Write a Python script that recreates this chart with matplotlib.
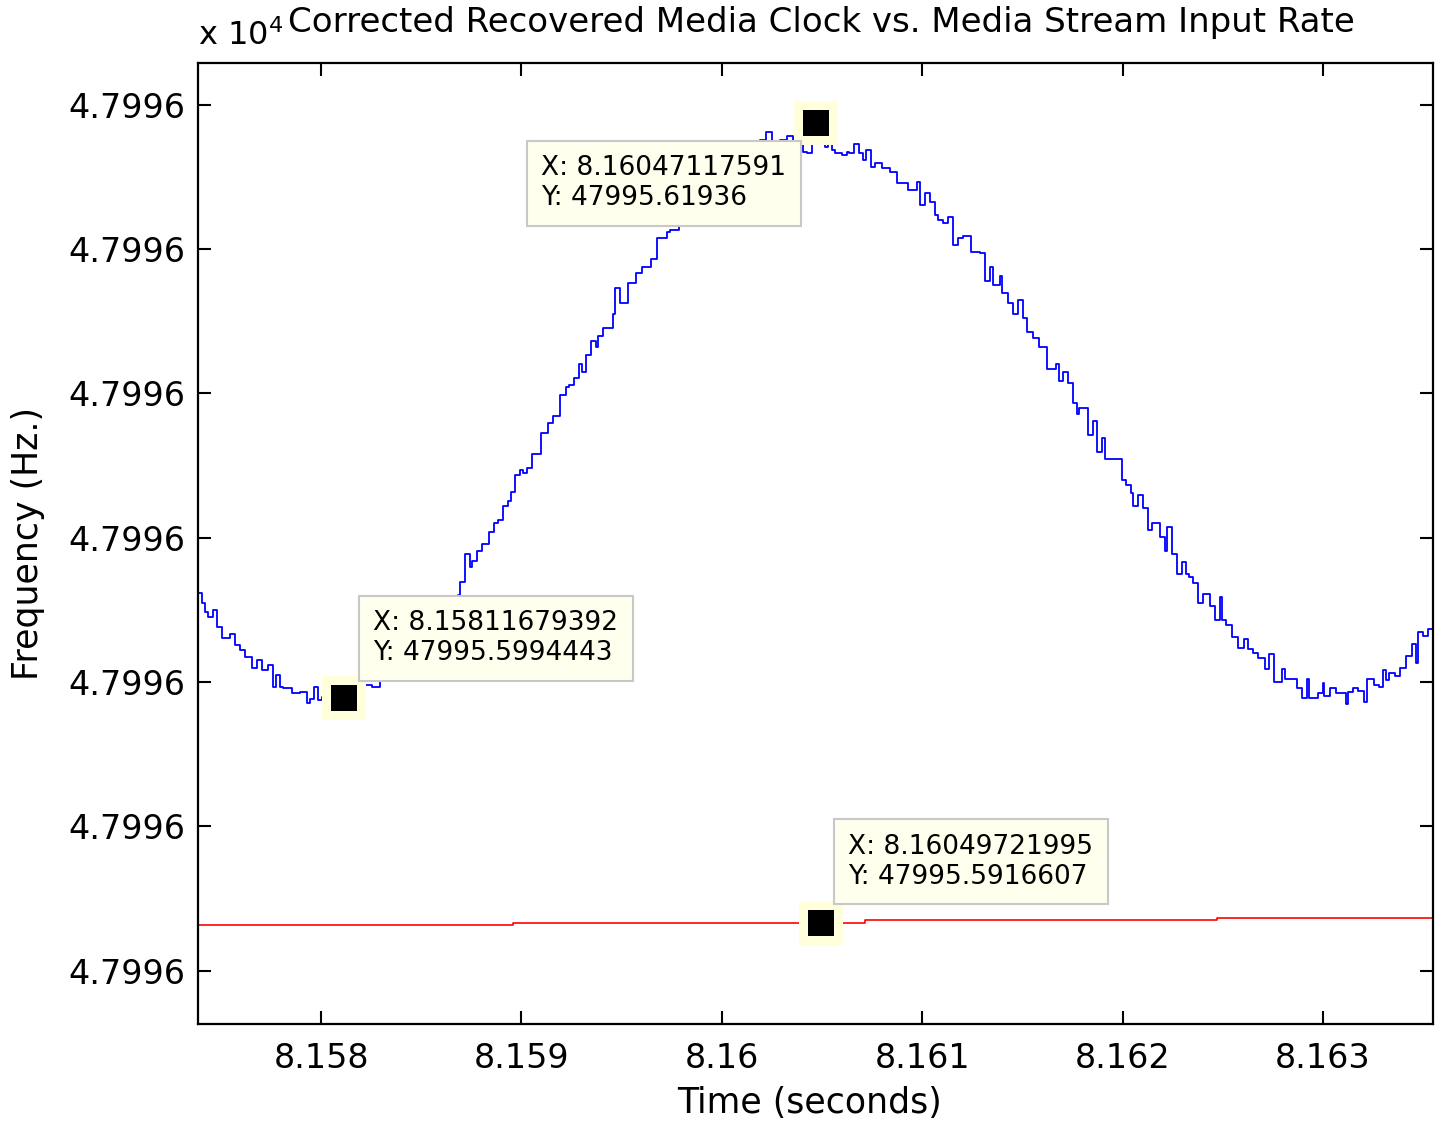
import numpy as np
import matplotlib
matplotlib.use("Agg")
import matplotlib.pyplot as plt
from matplotlib.ticker import MultipleLocator, FuncFormatter

# Base values: times are stored as microseconds after T0, frequencies as mHz above F0
T0 = 8.157        # s
F0 = 47995.5      # Hz

# Recovered media clock (blue staircase)
blue_t_us = [386, 406, 421, 436, 461, 481, 506, 546, 571, 596, 621, 656, 681, 706, 736, 761, 776, 795,
             810, 855, 895, 930, 945, 965, 985, 1005, 1045, 1085, 1110, 1155, 1185, 1220, 1254, 1294,
             1319, 1354, 1394, 1434, 1469, 1504, 1544, 1584, 1619, 1654, 1684,
             1694, 1719, 1744, 1753, 1778, 1803, 1838, 1863, 1883, 1908, 1933, 1948, 1968, 1993, 2008,
             2028, 2053, 2098, 2133, 2158, 2193, 2223, 2238, 2262, 2287, 2302, 2322, 2347, 2372, 2382,
             2407, 2457, 2467, 2492, 2532, 2572, 2602, 2647, 2677, 2727, 2742,
             2786, 2831, 2871, 2916, 2956, 3001, 3041, 3081, 3121, 3161, 3191, 3221, 3250, 3290, 3325,
             3355, 3405, 3425, 3450, 3465, 3490, 3515, 3530, 3550, 3565, 3600, 3625, 3635, 3660, 3685,
             3705, 3720, 3744, 3764, 3799, 3839, 3874, 3929, 3974, 3989, 4014, 4039, 4064, 4079, 4104,
             4129, 4154, 4179, 4204, 4244, 4288, 4313, 4338, 4353, 4388, 4398, 4428, 4453, 4478, 4503,
             4523, 4553, 4583, 4623, 4668, 4683, 4703, 4728, 4752, 4772, 4782, 4827, 4852, 4872, 4897,
             4912, 4997, 5017, 5042, 5052, 5077, 5102, 5127, 5147, 5187, 5212, 5222, 5246, 5271, 5296,
             5316, 5331, 5351, 5376, 5401, 5436, 5461, 5486, 5496, 5516, 5546, 5576, 5606, 5626, 5651,
             5676, 5711, 5731, 5755, 5795, 5810, 5870, 5895, 5920, 5930, 5975, 6000, 6005, 6035, 6065,
             6115, 6125, 6150, 6175, 6205, 6220, 6254, 6279, 6299, 6314, 6329, 6359, 6384, 6414, 6444,
             6464, 6474, 6499, 6524, 6549]
blue_f_mhz = [103.07, 102.75, 102.44, 102.26, 102.49, 101.92, 101.51, 101.66, 101.28, 101.11, 100.88,
              100.49, 100.76, 100.42, 100.59, 99.84, 100.24, 99.84, 99.79, 99.62, 99.65, 99.28, 99.41,
              99.84, 99.38, 99.48, 99.34, 99.58, 99.44, 99.65, 99.51, 99.90, 99.84, 100.07,
              100.21, 100.49, 100.69, 100.94, 101.18, 101.46, 101.80, 102.08, 102.43, 102.74, 103.01,
              103.48, 104.44, 104.00, 104.20, 104.55, 104.78, 105.21, 105.52, 105.61, 106.10, 106.27,
              106.59, 107.17, 107.35, 107.25, 107.40, 107.90, 108.64, 108.96, 109.22, 109.94, 110.23,
              110.29, 110.52, 111.02, 110.75, 111.33, 111.83, 111.60, 111.99, 112.26, 112.75, 113.64,
              113.14, 113.84, 114.16, 114.39, 114.65, 115.37, 115.60, 115.66,
              115.94, 116.29, 116.60, 116.98, 117.33, 117.67, 117.91, 118.19, 118.43, 118.68, 118.78,
              119.07, 118.71, 118.78, 118.92, 118.78, 118.38, 118.33, 118.95, 119.36, 118.78, 118.55,
              118.71, 118.43, 118.32, 118.26, 118.38, 118.32, 118.64, 118.32, 118.09, 118.43, 117.83,
              117.99, 117.80, 117.68, 117.30, 117.05, 117.34, 116.53, 116.93, 116.64, 116.18, 116.01,
              115.91, 116.12, 115.14, 115.37, 115.45, 114.91, 114.85, 113.91, 114.39, 113.76, 114.07,
              113.47, 113.12, 112.75, 113.24, 112.60, 112.14, 111.91, 111.60, 110.84, 111.02, 110.44,
              110.75, 110.35, 109.66, 109.29, 109.48, 108.56, 109.05, 107.98, 108.46, 107.73, 107.00,
              106.83, 106.56, 106.10, 106.48, 106.02, 105.27, 105.52, 105.03, 104.55, 105.36, 104.44,
              103.74, 104.17, 103.74, 103.63, 103.44, 102.75, 103.05, 102.63, 102.15, 102.93, 102.15,
              101.98, 101.57, 101.17, 101.48, 101.13, 101.02, 100.82, 100.44, 100.97, 100.01, 100.44,
              100.09, 99.78, 99.44, 100.09, 99.44, 99.61, 99.98, 99.51, 99.78, 99.61, 99.24, 99.66,
              99.78, 99.70, 99.32, 100.09, 99.90, 99.82, 100.42, 100.07, 100.32, 100.21, 100.47,
              100.90, 101.32, 100.67, 101.74, 101.59, 101.83, 101.83]

# Media stream input rate (red)
red_t_us = [386, 1958, 2193, 3715, 5471, 6549]
red_f_mhz = [91.57, 91.64, 91.66, 91.75, 91.81, 91.81]

# Data tips
tip_x = [8.15811679392, 8.16047117591, 8.16049721995]
tip_y = [47995.5994443, 47995.61936, 47995.5916607]
tip_offsets = [(29, 60), (-275, -60), (27, 61)]   # pixels from the point to the text

fig = plt.figure(figsize=(14.37, 11.21), dpi=100)
ax = fig.add_axes([198 / 1437, 97 / 1121, 1235 / 1437, 961 / 1121])

bt = T0 + np.array(blue_t_us) * 1e-6
bf = F0 + np.array(blue_f_mhz) * 1e-3
rt = T0 + np.array(red_t_us) * 1e-6
rf = F0 + np.array(red_f_mhz) * 1e-3

ax.step(bt, bf, where='post', color='#0000ff', lw=1.3, zorder=2)
ax.step(rt, rf, where='post', color='#ff0000', lw=1.2, zorder=2)

ax.set_xlim(bt[0], bt[-1])
ax.set_ylim(47995.58815, 47995.62145)

ax.xaxis.set_major_locator(MultipleLocator(0.001))
ax.yaxis.set_major_locator(MultipleLocator(0.005))
ax.xaxis.set_major_formatter(FuncFormatter(lambda v, p: f'{v:g}'))
ax.yaxis.set_major_formatter(FuncFormatter(lambda v, p: f'{v / 1e4:.4f}'))

ax.tick_params(direction='in', length=9.5, width=1.5, labelsize=24, top=True, right=True)
ax.tick_params(axis='y', pad=9)
ax.tick_params(axis='x', pad=13)
for s in ax.spines.values():
    s.set_linewidth(1.6)

ax.set_xlabel('Time (seconds)', fontsize=25)
ax.set_ylabel('Frequency (Hz.)', fontsize=25)
ax.xaxis.set_label_coords(0.495, -0.064)
ax.yaxis.set_label_coords(-0.124, 0.5)

fig.text(1355 / 1437, 1 - 32 / 1121,
         'Corrected Recovered Media Clock vs. Media Stream Input Rate',
         ha='right', va='baseline', fontsize=24.5)
fig.text(198 / 1437, 1 - 45 / 1121, 'x 10$^{4}$', ha='left', va='baseline', fontsize=23)

# data tip markers and boxes
for x, y, off in zip(tip_x, tip_y, tip_offsets):
    ax.plot(x, y, 's', ms=31, color='#ffffdc', mew=0, zorder=4)
    ax.plot(x, y, 's', ms=18.5, color='black', mew=0, zorder=5)
    ax.annotate(f'X: {x:.12g}\nY: {y:.12g}', (x, y), xytext=off, textcoords='offset pixels',
                ha='left', va='center', fontsize=19, zorder=6,
                bbox=dict(boxstyle='square,pad=0.55', fc='#ffffee', ec='#c8c8c8', lw=1.5))

fig.savefig('out.png', dpi=100)
